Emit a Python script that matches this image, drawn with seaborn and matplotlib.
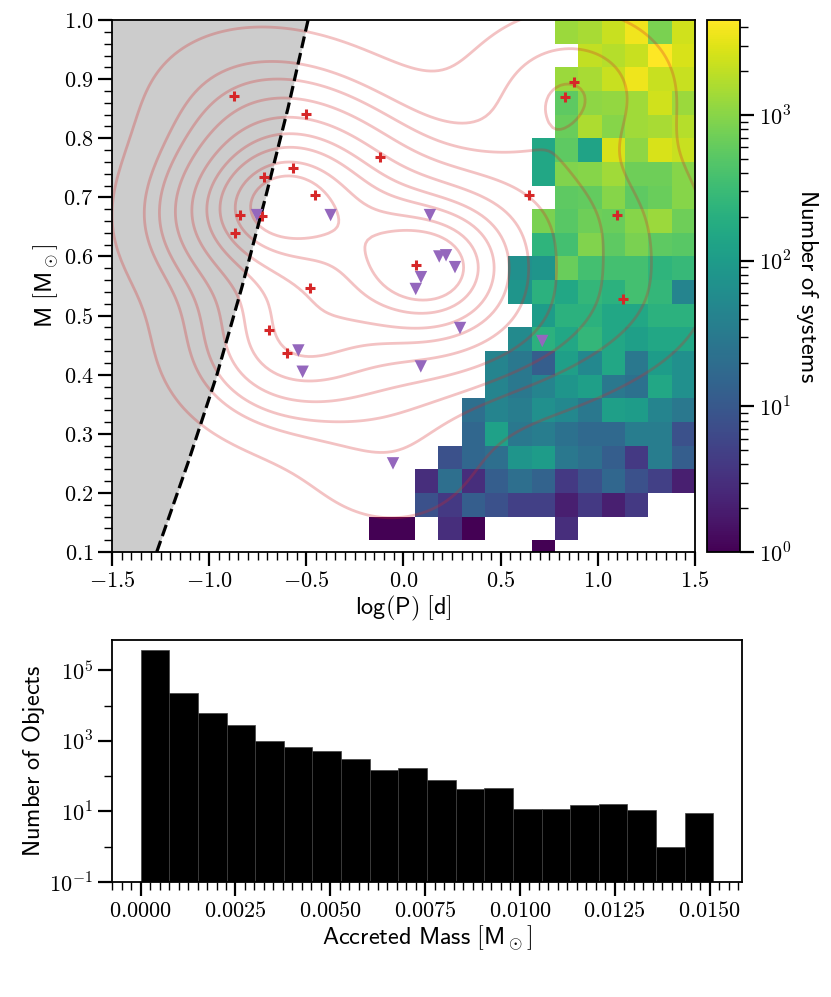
import numpy as np
import pandas as pd
import matplotlib
matplotlib.use('Agg')
import matplotlib.pyplot as plt
import seaborn as sb
from matplotlib.colors import LogNorm
from matplotlib.ticker import AutoMinorLocator, FuncFormatter, FixedLocator, NullFormatter

#-------------------------------------------------------------------------------------------------
# data
#-------------------------------------------------------------------------------------------------
# observed systems, log(P) [d] and M [Msun]
red_logp = [-0.87, -0.50, -0.12, -0.57, -0.72, -0.455, -0.84, -0.865, -0.73, -0.48,
            -0.69, -0.60, 0.063, 0.646, 0.83, 0.88, 1.10, 1.13]
red_mass = [0.871, 0.841, 0.768, 0.749, 0.735, 0.704, 0.670, 0.640, 0.668, 0.547,
            0.476, 0.436, 0.586, 0.704, 0.870, 0.895, 0.670, 0.528]
purple_logp = [-0.754, -0.375, 0.136, 0.184, 0.219, 0.265, 0.090, 0.063, 0.291,
               0.089, 0.714, -0.541, -0.519, -0.054]
purple_mass = [0.670, 0.670, 0.670, 0.600, 0.602, 0.582, 0.565, 0.545, 0.479,
               0.414, 0.457, 0.441, 0.405, 0.250]

# forbidden region boundary (dashed line)
edge_logp = [-1.270, -1.110, -0.960, -0.830, -0.710, -0.595, -0.491]
edge_mass = [0.10, 0.25, 0.40, 0.55, 0.70, 0.85, 1.00]

# simulated population, counts per cell (rows from M=0.96-1.00 down to 0.08-0.12)
# columns: log(P) cells starting at -0.18, -0.06, ..., 1.38 (width 0.12)
cell_counts = [
    [0, 0, 0, 0, 0, 0, 0, 0, 1260, 1490, 2250, 3700, 830, 2450],
    [0, 0, 0, 0, 0, 0, 0, 0, 0, 2070, 1760, 2250, 4500, 2670],
    [0, 0, 0, 0, 0, 0, 0, 0, 1260, 1490, 2250, 3600, 2250, 2250],
    [0, 0, 0, 0, 0, 0, 0, 0, 550, 1070, 1150, 1370, 2450, 1260],
    [0, 0, 0, 0, 0, 0, 0, 0, 650, 1620, 980, 1370, 1490, 1760],
    [0, 0, 0, 0, 0, 0, 0, 150, 550, 130, 2670, 1070, 2670, 2250],
    [0, 0, 0, 0, 0, 0, 0, 150, 900, 980, 1370, 700, 700, 980],
    [0, 0, 0, 0, 0, 0, 0, 0, 550, 600, 980, 550, 650, 980],
    [0, 0, 0, 0, 0, 0, 0, 830, 500, 700, 650, 980, 1260, 700],
    [0, 0, 0, 0, 0, 0, 0, 235, 360, 900, 550, 830, 550, 500],
    [0, 0, 0, 0, 0, 0, 66, 80, 650, 360, 360, 360, 235, 280],
    [0, 0, 0, 0, 0, 0, 80, 215, 150, 260, 215, 360, 260, 44],
    [0, 0, 0, 0, 0, 0, 0, 100, 215, 215, 150, 150, 215, 215],
    [0, 0, 0, 0, 0, 0, 55, 215, 150, 260, 150, 110, 150, 150],
    [0, 0, 0, 0, 0, 44, 29, 12, 110, 50, 150, 29, 100, 66],
    [0, 0, 0, 0, 0, 44, 29, 44, 80, 110, 29, 23, 150, 66],
    [0, 0, 0, 0, 21, 44, 34, 66, 50, 29, 110, 100, 44, 29],
    [0, 0, 0, 0, 16, 120, 29, 34, 23, 17, 17, 34, 34, 8],
    [0, 0, 0, 8, 16, 21, 80, 100, 29, 21, 12, 4, 34, 12],
    [0, 0, 3, 21, 3, 12, 21, 14, 4, 8, 16, 8, 5, 2],
    [0, 0, 8, 4, 12, 8, 5, 5, 2, 4, 2, 4, 0, 0],
    [1, 1, 0, 3, 1, 0, 0, 0, 3, 0, 0, 0, 0, 0],
    [0, 0, 0, 0, 0, 0, 0, 1, 0, 0, 0, 0, 0, 0],
]

# accreted mass histogram (20 bins from 0 to 0.0151 Msun)
mass_max = 0.0151
hist_counts = [385000, 22700, 6100, 2900, 1000, 680, 505, 300, 145, 173,
               77, 42, 46, 12, 12, 15, 16, 11, 1, 9]

#-------------------------------------------------------------------------------------------------
# style
#-------------------------------------------------------------------------------------------------
plt.rcParams.update({
    'mathtext.fontset': 'cm',
    'font.size': 16,
    'axes.linewidth': 1.3,
    'axes.labelpad': 2,
    'xtick.major.size': 10, 'xtick.major.width': 1.6,
    'xtick.minor.size': 5.5, 'xtick.minor.width': 1.0,
    'ytick.major.size': 10, 'ytick.major.width': 1.6,
    'ytick.minor.size': 5.5, 'ytick.minor.width': 1.0,
    'xtick.labelsize': 16, 'ytick.labelsize': 16,
})
lab_size = 17.5

def cm_num(fmt):
    return FuncFormatter(lambda v, p: '$' + format(v, fmt) + '$')

def cm_pow(v, p):
    return '$10^{%d}$' % int(round(np.log10(v)))

fig = plt.figure(figsize=(8.31, 9.97), dpi=100)
ax = fig.add_axes([0.1348, 0.4463, 0.7015, 0.5336])
cax = fig.add_axes([0.8508, 0.4463, 0.0397, 0.5336])
ax2 = fig.add_axes([0.1348, 0.1153, 0.7581, 0.2427])

#-------------------------------------------------------------------------------------------------
# top panel
#-------------------------------------------------------------------------------------------------
x_edges = np.linspace(-1.5, 1.5, 26)
y_edges = np.linspace(0.0, 1.0, 26)
grid = np.zeros((25, 25))
grid[2:25, 11:25] = np.array(cell_counts)[::-1]
mesh = ax.pcolormesh(x_edges, y_edges, np.ma.masked_equal(grid, 0), cmap='viridis',
                     norm=LogNorm(1, 4500), zorder=1)

ax.fill_betweenx(edge_mass, -2, edge_logp, color='0.8', lw=0, zorder=0)
ax.plot(edge_logp, edge_mass, 'k--', lw=2.3, zorder=3)

sb.kdeplot(x=red_logp + purple_logp, y=red_mass + purple_mass, levels=10,
           color='tab:red', alpha=0.28, linewidths=2, ax=ax, zorder=2)

sb.scatterplot(x=red_logp, y=red_mass, marker='+', s=60, color='tab:red',
               linewidth=2.2, ax=ax, zorder=5)
sb.scatterplot(x=purple_logp, y=purple_mass, marker='v', s=80, color='tab:purple',
               edgecolor='none', ax=ax, zorder=6)

ax.set_xlim(-1.5, 1.5)
ax.set_ylim(0.1, 1.0)
ax.set_xticks(np.arange(-1.5, 1.51, 0.5))
ax.set_yticks(np.arange(0.1, 1.01, 0.1))
ax.xaxis.set_major_formatter(cm_num('.1f'))
ax.yaxis.set_major_formatter(cm_num('.1f'))
ax.xaxis.set_minor_locator(AutoMinorLocator(10))
ax.yaxis.set_minor_locator(AutoMinorLocator(5))
ax.set_xlabel(r'$\mathsf{log(P)\ [d]}$', fontsize=lab_size)
ax.set_ylabel(r'$\mathsf{M\ [M}_\odot\mathsf{]}$', fontsize=lab_size)

cb = fig.colorbar(mesh, cax=cax)
cb.outline.set_linewidth(1.3)
cb.ax.yaxis.set_major_formatter(FuncFormatter(cm_pow))
cb.set_label(r'$\mathsf{Number\ of\ systems}$', rotation=270, labelpad=21, fontsize=lab_size)

#-------------------------------------------------------------------------------------------------
# bottom panel
#-------------------------------------------------------------------------------------------------
df = pd.DataFrame({'mass': (np.arange(len(hist_counts)) + 0.5) * mass_max / len(hist_counts),
                   'n': hist_counts})
sb.histplot(data=df, x='mass', weights='n', bins=len(hist_counts), binrange=(0, mass_max),
            color='k', alpha=1, edgecolor='0.25', linewidth=0.5, ax=ax2)
ax2.set_yscale('log')
ax2.set_ylim(0.1, 7.2e5)
ax2.set_xlim(-0.05 * mass_max, 1.05 * mass_max)
ax2.yaxis.set_major_locator(FixedLocator([1e-1, 1e1, 1e3, 1e5]))
ax2.yaxis.set_minor_locator(FixedLocator([1e0, 1e2, 1e4]))
ax2.yaxis.set_minor_formatter(NullFormatter())
ax2.yaxis.set_major_formatter(FuncFormatter(cm_pow))
ax2.set_xticks(np.arange(0, 0.01501, 0.0025))
ax2.xaxis.set_major_formatter(cm_num('.4f'))
ax2.xaxis.set_minor_locator(AutoMinorLocator(10))
ax2.set_xlabel(r'$\mathsf{Accreted\ Mass\ [M}_\odot\mathsf{]}$', fontsize=lab_size)
ax2.set_ylabel(r'$\mathsf{Number\ of\ Objects}$', fontsize=lab_size)

fig.savefig('out.png', dpi=100)
